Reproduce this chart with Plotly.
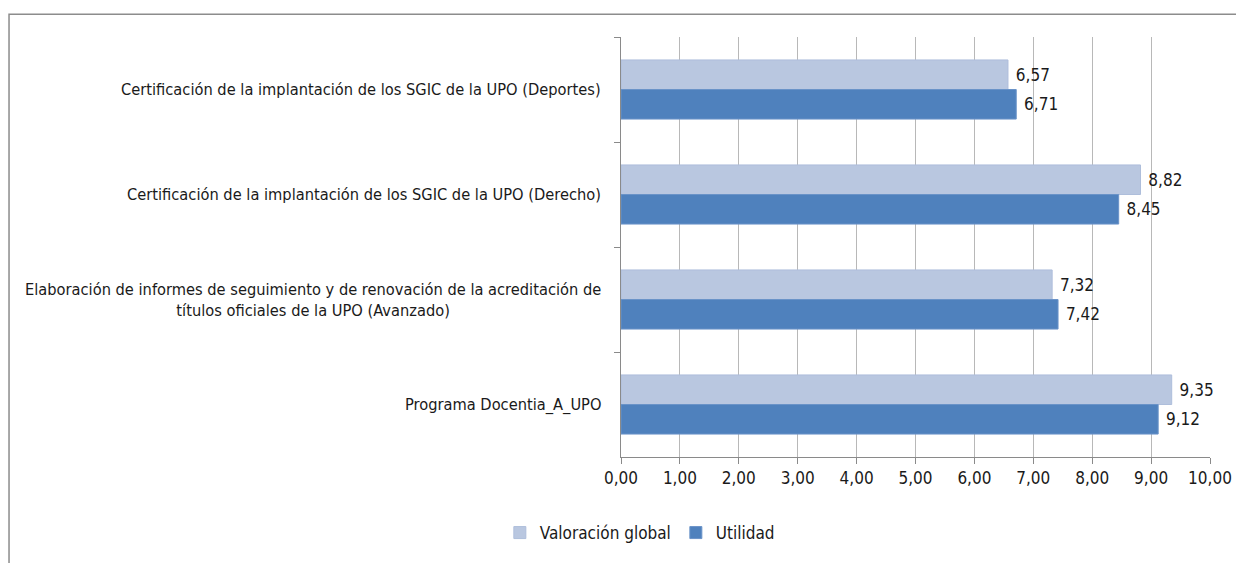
import plotly.graph_objects as go

categories = [
    "Certificación de la implantación de los SGIC de la UPO (Deportes)",
    "Certificación de la implantación de los SGIC de la UPO (Derecho)",
    "Elaboración de informes de seguimiento y de renovación de la acreditación de<br>títulos oficiales de la UPO (Avanzado)",
    "Programa Docentia_A_UPO",
]
valoracion_global = [6.57, 8.82, 7.32, 9.35]
utilidad = [6.71, 8.45, 7.42, 9.12]
x_ticks = [0, 1, 2, 3, 4, 5, 6, 7, 8, 9, 10]

FONT = "DejaVu Sans Condensed, Liberation Sans Narrow, sans-serif"
TXT = "#1a1a1a"
FS = 17
FS_CAT = 16.3

fig = go.Figure()
fig.add_trace(go.Bar(
    name="Valoración global", y=categories, x=valoracion_global, orientation="h",
    marker=dict(color="#B9C7E0", line=dict(color="#AEBEDB", width=1)),
    texttemplate="\u00a0%{x:.2f}", textposition="outside",
    textfont=dict(family=FONT, size=FS, color=TXT), cliponaxis=False,
))
fig.add_trace(go.Bar(
    name="Utilidad", y=categories, x=utilidad, orientation="h",
    marker=dict(color="#4F81BD", line=dict(color="#6A93C8", width=1)),
    texttemplate="\u00a0%{x:.2f}", textposition="outside",
    textfont=dict(family=FONT, size=FS, color=TXT), cliponaxis=False,
))

annotations = []
for c in categories:
    annotations.append(dict(
        x=0, xref="paper", y=c, yref="y", text=c, showarrow=False,
        xanchor="right", yanchor="middle", align="center", xshift=-18,
        font=dict(family=FONT, size=FS_CAT, color=TXT),
    ))

fig.update_layout(
    width=1236, height=555,
    margin=dict(l=613, r=31, t=29, b=100),
    paper_bgcolor="white", plot_bgcolor="white",
    separators=",.",
    barmode="group", bargap=0.437, bargroupgap=0,
    font=dict(family=FONT, size=FS, color=TXT),
    xaxis=dict(
        range=[0, 10], tickvals=x_ticks, tickformat=".2f",
        showgrid=True, gridcolor="#b8b8b8", gridwidth=1,
        showline=True, linecolor="#8a8a8a", linewidth=1,
        ticks="outside", ticklen=6, tickcolor="#8a8a8a",
        tickfont=dict(family=FONT, size=FS, color=TXT),
        zeroline=False, fixedrange=True,
    ),
    yaxis=dict(
        autorange="reversed", type="category",
        showticklabels=False, showgrid=False,
        showline=True, linecolor="#8a8a8a", linewidth=1,
        ticks="outside", tickson="boundaries", ticklen=6, tickcolor="#8a8a8a",
        fixedrange=True,
    ),
    legend=dict(
        orientation="h", x=0.032, xanchor="center", y=-0.181, yanchor="middle",
        font=dict(family=FONT, size=FS, color=TXT), itemwidth=30,
        traceorder="normal",
    ),
    annotations=annotations,
    shapes=[dict(
        type="rect", xref="paper", yref="paper",
        x0=-1.039, x1=1.2, y0=-0.5, y1=1.054,
        line=dict(color="#8c8c8c", width=1.5), layer="below",
    )],
    showlegend=True,
)

fig.write_html("out.html")
